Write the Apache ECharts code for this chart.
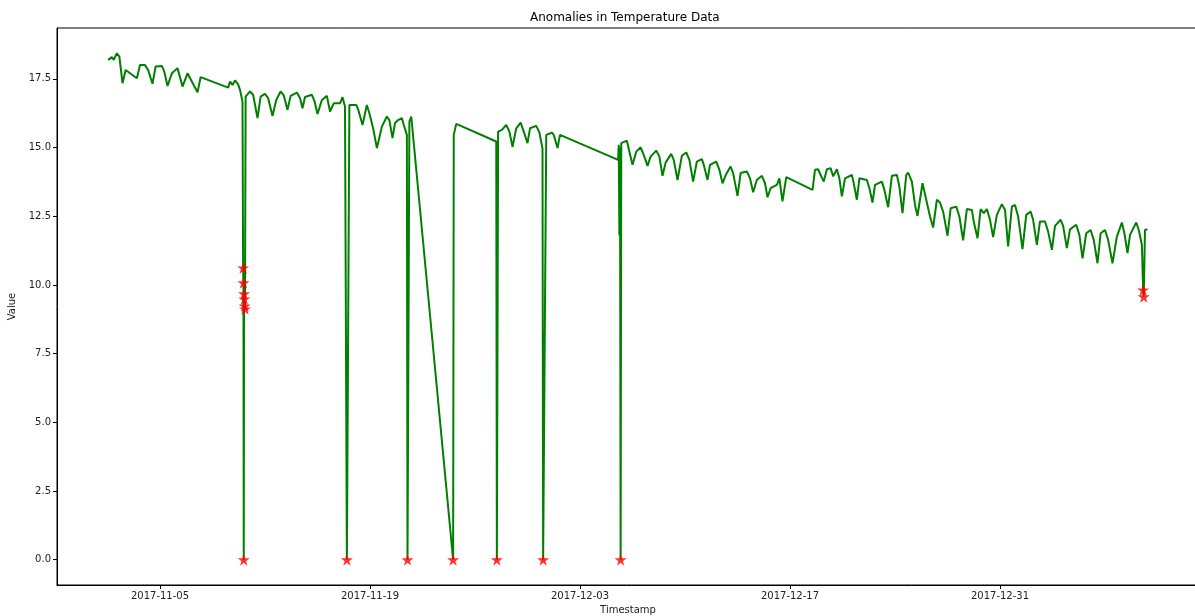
<!DOCTYPE html>
<html>
<head>
<meta charset="utf-8">
<script src="https://cdn.jsdelivr.net/npm/echarts@6/dist/echarts.min.js"></script>
<style>html,body{margin:0;padding:0;background:#fff;}#chart{width:1195px;height:616px;}</style>
</head>
<body>
<div id="chart"></div>
<script>
// Temperature readings [timestamp, value]
const temperature = [
['2017-11-01 13:00',18.19],['2017-11-01 19:00',18.29],['2017-11-01 22:00',18.19],['2017-11-02 03:00',18.43],
['2017-11-02 07:00',18.31],['2017-11-02 12:00',17.34],['2017-11-02 17:00',17.82],['2017-11-03 11:00',17.52],
['2017-11-03 16:00',18.00],['2017-11-04 00:00',18.00],['2017-11-04 05:00',17.82],['2017-11-04 12:00',17.32],
['2017-11-04 17:00',17.95],['2017-11-05 03:00',17.97],['2017-11-05 07:00',17.75],['2017-11-05 12:00',17.24],
['2017-11-05 19:00',17.70],['2017-11-06 04:00',17.89],['2017-11-06 12:00',17.22],['2017-11-06 20:00',17.70],
['2017-11-07 12:00',17.01],['2017-11-07 17:00',17.56],['2017-11-09 13:00',17.18],['2017-11-09 16:00',17.40],
['2017-11-09 20:00',17.28],['2017-11-10 00:00',17.44],['2017-11-10 05:00',17.30],['2017-11-10 08:00',17.10],
['2017-11-10 12:00',16.67],['2017-11-10 13:00',10.62],['2017-11-10 13:30',10.08],['2017-11-10 14:00',0.0],
['2017-11-10 14:30',9.68],['2017-11-10 15:00',9.49],['2017-11-10 15:30',9.24],['2017-11-10 16:00',9.13],
['2017-11-10 17:00',16.85],['2017-11-11 00:00',17.04],['2017-11-11 05:00',16.92],['2017-11-11 12:00',16.07],
['2017-11-11 17:00',16.85],['2017-11-12 00:00',16.95],['2017-11-12 05:00',16.80],['2017-11-12 12:00',16.15],
['2017-11-12 18:00',16.73],['2017-11-13 01:00',17.04],['2017-11-13 06:00',16.90],['2017-11-13 12:00',16.37],
['2017-11-13 17:00',16.88],['2017-11-14 03:00',17.00],['2017-11-14 08:00',16.80],['2017-11-14 12:00',16.43],
['2017-11-14 16:00',16.84],['2017-11-15 03:00',16.92],['2017-11-15 07:00',16.70],['2017-11-15 12:00',16.22],
['2017-11-15 19:00',16.73],['2017-11-16 03:00',16.88],['2017-11-16 08:00',16.31],['2017-11-16 14:00',16.61],
['2017-11-17 00:00',16.61],['2017-11-17 04:00',16.83],['2017-11-17 08:00',16.49],['2017-11-17 11:00',0.0],
['2017-11-17 15:00',16.55],['2017-11-18 02:00',16.55],['2017-11-18 05:00',16.39],['2017-11-18 12:00',15.82],
['2017-11-18 19:00',16.55],['2017-11-18 23:00',16.25],['2017-11-19 05:00',15.70],['2017-11-19 11:00',14.98],
['2017-11-19 19:00',15.76],['2017-11-20 03:00',16.13],['2017-11-20 07:00',16.00],['2017-11-20 12:00',15.34],
['2017-11-20 16:00',15.89],['2017-11-20 21:00',16.00],['2017-11-21 03:00',16.07],['2017-11-21 06:00',15.82],
['2017-11-21 11:00',15.46],['2017-11-21 12:00',0.0],['2017-11-21 15:00',15.94],['2017-11-21 18:00',16.13],
['2017-11-24 13:00',0.0],['2017-11-24 14:00',15.46],['2017-11-24 18:00',15.86],['2017-11-27 10:00',15.22],
['2017-11-27 11:00',0.0],['2017-11-27 13:00',15.58],['2017-11-27 19:00',15.64],['2017-11-28 02:00',15.82],
['2017-11-28 07:00',15.58],['2017-11-28 12:00',15.03],['2017-11-28 18:00',15.70],['2017-11-29 01:00',15.91],
['2017-11-29 06:00',15.58],['2017-11-29 12:00',15.16],['2017-11-29 16:00',15.70],['2017-11-30 02:00',15.79],
['2017-11-30 07:00',15.55],['2017-11-30 12:00',14.95],['2017-11-30 13:00',0.0],['2017-11-30 18:00',15.46],
['2017-12-01 03:00',15.54],['2017-12-01 06:00',15.46],['2017-12-01 12:00',14.98],['2017-12-01 16:00',15.46],
['2017-12-05 13:00',14.55],['2017-12-05 14:00',15.10],['2017-12-05 15:00',11.80],['2017-12-05 16:00',15.00],
['2017-12-05 17:00',0.0],['2017-12-05 18:00',15.16],['2017-12-06 03:00',15.25],['2017-12-06 07:00',14.85],
['2017-12-06 12:00',14.37],['2017-12-06 18:00',14.85],['2017-12-07 01:00',15.01],['2017-12-07 06:00',14.73],
['2017-12-07 12:00',14.33],['2017-12-07 17:00',14.67],['2017-12-08 02:00',14.89],['2017-12-08 07:00',14.67],
['2017-12-08 12:00',13.97],['2017-12-08 17:00',14.45],['2017-12-09 02:00',14.77],['2017-12-09 06:00',14.55],
['2017-12-09 12:00',13.82],['2017-12-09 19:00',14.70],['2017-12-10 02:00',14.82],['2017-12-10 07:00',14.55],
['2017-12-10 13:00',13.76],['2017-12-10 19:00',14.49],['2017-12-11 03:00',14.58],['2017-12-11 06:00',14.37],
['2017-12-11 12:00',13.82],['2017-12-11 16:00',14.37],['2017-12-12 02:00',14.49],['2017-12-12 07:00',14.19],
['2017-12-12 12:00',13.70],['2017-12-12 18:00',14.04],['2017-12-13 01:00',14.31],['2017-12-13 05:00',14.07],
['2017-12-13 12:00',13.24],['2017-12-13 17:00',14.07],['2017-12-14 03:00',14.13],['2017-12-14 08:00',13.88],
['2017-12-14 13:00',13.37],['2017-12-14 19:00',13.82],['2017-12-15 03:00',13.97],['2017-12-15 08:00',13.70],
['2017-12-15 12:00',13.19],['2017-12-15 17:00',13.52],['2017-12-16 03:00',13.64],['2017-12-16 07:00',13.88],
['2017-12-16 12:00',13.04],['2017-12-16 18:00',13.92],['2017-12-18 12:00',13.46],['2017-12-18 16:00',14.19],
['2017-12-18 21:00',14.21],['2017-12-19 01:00',14.00],['2017-12-19 06:00',13.76],['2017-12-19 11:00',14.21],
['2017-12-19 17:00',14.25],['2017-12-19 21:00',13.95],['2017-12-20 03:00',14.21],['2017-12-20 07:00',13.88],
['2017-12-20 11:00',13.22],['2017-12-20 16:00',13.88],['2017-12-21 03:00',14.00],['2017-12-21 06:00',13.70],
['2017-12-21 11:00',13.10],['2017-12-21 15:00',13.88],['2017-12-22 03:00',13.82],['2017-12-22 07:00',13.52],
['2017-12-22 12:00',13.00],['2017-12-22 16:00',13.64],['2017-12-23 03:00',13.76],['2017-12-23 07:00',13.46],
['2017-12-23 13:00',12.83],['2017-12-23 19:00',13.97],['2017-12-24 03:00',14.00],['2017-12-24 07:00',13.58],
['2017-12-24 12:00',12.61],['2017-12-24 18:00',14.00],['2017-12-24 21:00',14.09],['2017-12-25 03:00',13.76],
['2017-12-25 08:00',12.91],['2017-12-25 12:00',12.51],['2017-12-25 20:00',13.70],['2017-12-26 02:00',13.10],
['2017-12-26 08:00',12.49],['2017-12-26 13:00',12.09],['2017-12-26 19:00',13.10],['2017-12-27 00:00',13.00],
['2017-12-27 05:00',12.67],['2017-12-27 12:00',11.79],['2017-12-27 17:00',12.79],['2017-12-28 02:00',12.85],
['2017-12-28 07:00',12.49],['2017-12-28 13:00',11.62],['2017-12-28 19:00',12.76],['2017-12-29 03:00',12.73],
['2017-12-29 06:00',12.31],['2017-12-29 12:00',11.70],['2017-12-29 17:00',12.76],['2017-12-29 22:00',12.61],
['2017-12-30 03:00',12.76],['2017-12-30 08:00',12.37],['2017-12-30 13:00',11.74],['2017-12-30 19:00',12.55],
['2017-12-31 03:00',12.94],['2017-12-31 08:00',12.73],['2017-12-31 13:00',11.40],['2017-12-31 19:00',12.85],
['2018-01-01 00:00',12.91],['2018-01-01 05:00',12.49],['2018-01-01 12:00',11.30],['2018-01-01 18:00',12.55],
['2018-01-02 01:00',12.67],['2018-01-02 05:00',12.37],['2018-01-02 11:00',11.46],['2018-01-02 16:00',12.31],
['2018-01-03 00:00',12.31],['2018-01-03 05:00',11.94],['2018-01-03 11:00',11.28],['2018-01-03 16:00',12.15],
['2018-01-04 01:00',12.37],['2018-01-04 05:00',12.15],['2018-01-04 11:00',11.34],['2018-01-04 16:00',12.02],
['2018-01-05 02:00',12.19],['2018-01-05 07:00',11.82],['2018-01-05 12:00',10.97],['2018-01-05 18:00',11.88],
['2018-01-06 01:00',12.00],['2018-01-06 06:00',11.64],['2018-01-06 12:00',10.79],['2018-01-06 17:00',11.88],
['2018-01-07 00:00',12.00],['2018-01-07 05:00',11.64],['2018-01-07 12:00',10.79],['2018-01-07 19:00',11.76],
['2018-01-08 03:00',12.27],['2018-01-08 07:00',11.88],['2018-01-08 12:00',11.16],['2018-01-08 16:00',11.82],
['2018-01-09 02:00',12.27],['2018-01-09 06:00',12.00],['2018-01-09 11:00',11.46],['2018-01-09 13:00',9.82],
['2018-01-09 14:00',9.57],['2018-01-09 16:00',12.00],['2018-01-09 20:00',12.03]
];
// Detected anomalies [timestamp, value]
const anomalies = [
['2017-11-10 13:00',10.62],['2017-11-10 13:30',10.08],['2017-11-10 14:00',0.0],['2017-11-10 14:30',9.68],
['2017-11-10 15:00',9.49],['2017-11-10 15:30',9.24],['2017-11-10 16:00',9.13],['2017-11-17 11:00',0.0],
['2017-11-21 12:00',0.0],['2017-11-24 13:00',0.0],['2017-11-27 11:00',0.0],['2017-11-30 13:00',0.0],
['2017-12-05 17:00',0.0],['2018-01-09 13:00',9.82],['2018-01-09 14:00',9.57]
];
const xTickDates = ['2017-11-05','2017-11-19','2017-12-03','2017-12-17','2017-12-31'];
const yTicks = [0, 2.5, 5, 7.5, 10, 12.5, 15, 17.5];
const xRange = ['2017-10-29 03:12','2018-01-13 06:24'];
const yRange = [-0.92, 19.35];

function ts(s){ const [d,t] = s.split(' '); const [y,m,dd] = d.split('-').map(Number); const [h,mi] = (t||'00:00').split(':').map(Number); return new Date(y, m-1, dd, h, mi).getTime(); }
function fmtDate(v){ const d = new Date(v); const p = n => String(n).padStart(2,'0'); return d.getFullYear()+'-'+p(d.getMonth()+1)+'-'+p(d.getDate()); }

const starPath = 'path://M0,-100 L22,-31 L95,-31 L36,12 L59,81 L0,38 L-59,81 L-36,12 L-95,-31 L-22,-31 Z';
const font = 'DejaVu Sans';

const chart = echarts.init(document.getElementById('chart'), null, {renderer:'canvas'});
chart.setOption({
  animation: false,
  backgroundColor: '#ffffff',
  title: {
    text: 'Anomalies in Temperature Data',
    left: 530, top: 12, padding: 0,
    textStyle: {fontFamily: font, fontSize: 12, fontWeight: 'normal', color: '#000'}
  },
  grid: {left: 57, top: 28, right: -4, bottom: 31, outerBoundsMode: 'none', containLabel: false,
         show: true, borderColor: '#000', borderWidth: 1, backgroundColor: 'transparent'},
  xAxis: {
    type: 'value',
    min: ts(xRange[0]), max: ts(xRange[1]),
    name: 'Timestamp', nameLocation: 'middle', nameGap: 20,
    nameTextStyle: {fontFamily: font, fontSize: 10, color: '#222'},
    axisLine: {show: true, onZero: false, lineStyle: {color: '#000', width: 1}},
    axisTick: {show: true, length: 4, lineStyle: {color: '#000'}, customValues: xTickDates.map(ts)},
    axisLabel: {
      fontFamily: font, fontSize: 10, color: '#222', margin: 6,
      customValues: xTickDates.map(ts),
      formatter: v => fmtDate(v)
    },
    splitLine: {show: false}
  },
  yAxis: {
    type: 'value',
    min: yRange[0], max: yRange[1],
    name: 'Value', nameLocation: 'middle', nameGap: 36, nameRotate: 90,
    nameTextStyle: {fontFamily: font, fontSize: 10, color: '#222'},
    axisLine: {show: true, onZero: false, lineStyle: {color: '#000', width: 1}},
    axisTick: {show: true, length: 4, lineStyle: {color: '#000'}, customValues: yTicks},
    axisLabel: {
      fontFamily: font, fontSize: 10, color: '#222', margin: 6,
      customValues: yTicks,
      formatter: v => Number(v).toFixed(1)
    },
    splitLine: {show: false}
  },
  series: [
    {
      type: 'line',
      data: temperature.map(r => [ts(r[0]), r[1]]),
      showSymbol: false,
      lineStyle: {color: '#008000', width: 2},
      itemStyle: {color: '#008000'},
      z: 2
    },
    {
      type: 'scatter',
      data: anomalies.map(r => [ts(r[0]), r[1]]),
      symbol: starPath,
      symbolSize: 12,
      itemStyle: {color: '#ff0000'},
      z: 3
    }
  ]
});
</script>
</body>
</html>
